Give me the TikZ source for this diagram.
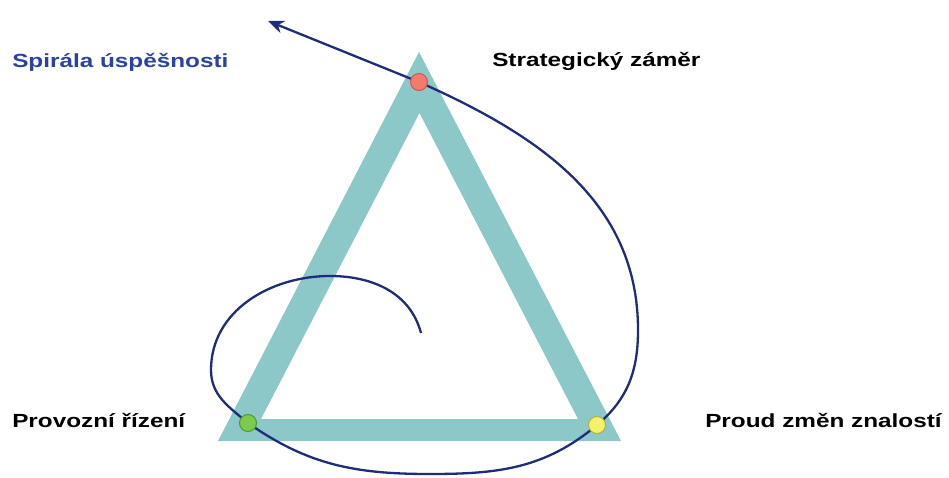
\documentclass[tikz,border=0pt]{standalone}
\usepackage{fontspec}
\setmainfont{Liberation Sans}
\usetikzlibrary{arrows.meta}

\definecolor{bandteal}{HTML}{8DC8C9}
\definecolor{spiralblue}{HTML}{1F2C7C}
\definecolor{labelblue}{HTML}{2C42A0}

\begin{document}
\begin{tikzpicture}[x=1pt, y=1pt,
          every node/.style={font=\bfseries\fontsize{19}{22}\selectfont},
          lab/.style={inner sep=0pt, anchor=base west, xscale=1.28, transform shape},
          dot/.style={circle, draw, line width=1pt, minimum width=17pt, minimum height=15pt, inner sep=0pt},
          spir/.style={spiralblue, line width=2.3pt},
          arr/.style={-{Stealth[length=16pt, width=13pt]}},
        ]
          \useasboundingbox (0,0) rectangle (949,477);

          %% triangle band (outer minus inner)
          \fill[bandteal, even odd rule]
                (419,425) -- (218,36) -- (621,36) -- cycle
                (419.5,364) -- (261,58) -- (578,58) -- cycle;

          %% points on the spiral
          \coordinate (c0)  at (421,144);
          \coordinate (c1)  at (330,201);
          \coordinate (c2)  at (211,107);
          \coordinate (pg)  at (248,54);
          \coordinate (c3)  at (430,3);
          \coordinate (py)  at (597,52);
          \coordinate (c4)  at (638,147);
          \coordinate (pz)  at (419,395);
          \coordinate (tip) at (268,456);

          %% spiral of success
          \draw[spir, arr] (c0) to[out=105,in=0] (c1) to[out=180,in=90] (c2)
                to[out=-90,in=140] (pg) to[out=-35,in=180] (c3)
                to[out=0,in=220] (py) to[out=40,in=-90] (c4)
                to[out=90,in=-24] (pz) -- (tip);

          %% dots on the corners
          \node[dot, fill={rgb,255:red,242;green,123;blue,107}, draw={rgb,255:red,205;green,88;blue,74}] (zamer) at (pz) {};
          \node[dot, fill={rgb,255:red,125;green,203;blue,78}, draw={rgb,255:red,78;green,154;blue,46}] (rizeni) at (pg) {};
          \node[dot, fill={rgb,255:red,245;green,242;blue,106}, draw={rgb,255:red,181;green,176;blue,64}] (proud) at (py) {};

          %% labels
          \node[lab, labelblue] (spirala) at (12,409) {Spirála úspěšnosti};
          \node[lab]            (strat)   at (492,410) {Strategický záměr};
          \node[lab]            (prov)    at (12,50)   {Provozní řízení};
          \node[lab]            (znal)    at (705,50)  {Proud změn znalostí};
        \end{tikzpicture}
\end{document}
